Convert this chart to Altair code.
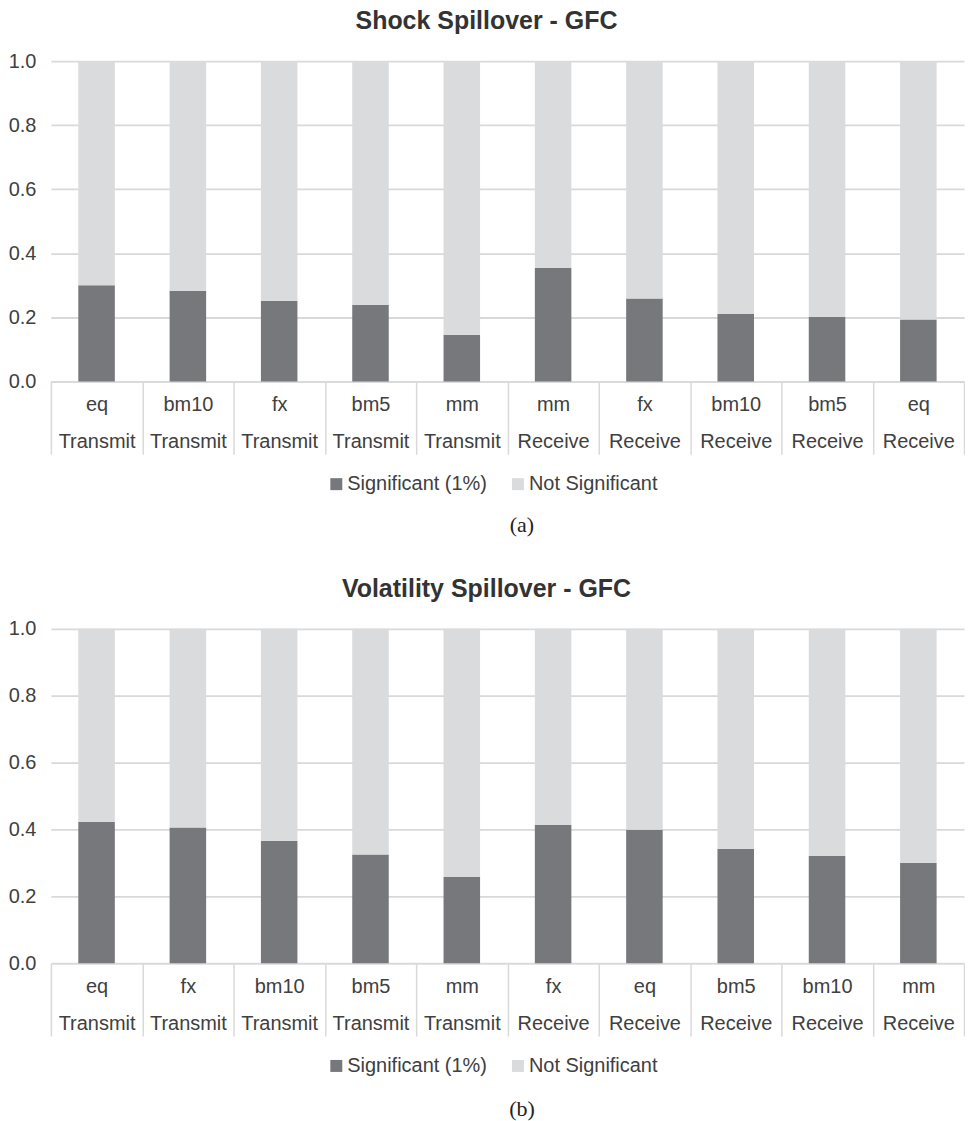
import altair as alt
import pandas as pd

# ---- data ----
status_names = ["Significant (1%)", "Not Significant"]

shock_assets = ["eq", "bm10", "fx", "bm5", "mm", "mm", "fx", "bm10", "bm5", "eq"]
shock_roles = ["Transmit"] * 5 + ["Receive"] * 5
shock_sig = [0.30, 0.283, 0.252, 0.239, 0.145, 0.354, 0.259, 0.210, 0.202, 0.193]

vol_assets = ["eq", "fx", "bm10", "bm5", "mm", "fx", "eq", "bm5", "bm10", "mm"]
vol_roles = ["Transmit"] * 5 + ["Receive"] * 5
vol_sig = [0.422, 0.406, 0.366, 0.325, 0.258, 0.413, 0.399, 0.342, 0.321, 0.300]

colors = ["#77787c", "#dadbdd"]
grid_c = "#d9d9d9"
text_c = "#404040"
FONT = "Liberation Sans"

W = 915


def build(assets, roles, sig, title, H):
    keys = [f"{a}|{r}" for a, r in zip(assets, roles)]
    rows = []
    for k, s in zip(keys, sig):
        rows.append({"key": k, "status": status_names[0], "value": s, "ord": 0})
        rows.append({"key": k, "status": status_names[1], "value": round(1 - s, 3), "ord": 1})
    df = pd.DataFrame(rows)
    return alt.Chart(df).mark_bar(width=alt.RelativeBandSize(0.4)).encode(
        x=alt.X("key:N", sort=keys,
                scale=alt.Scale(paddingInner=0, paddingOuter=0),
                axis=alt.Axis(title=None,
                              labelExpr="datum.value ? split(datum.value, '|') : ''",
                              labelAngle=0, tickBand="extent", tickSize=73,
                              tickColor=grid_c, tickWidth=1.5, domainColor=grid_c,
                              domainWidth=1.5,
                              labelPadding=-60, labelLineHeight=37, labelFontSize=20,
                              labelFont=FONT, labelColor=text_c, labelBaseline="top")),
        y=alt.Y("value:Q", stack="zero", scale=alt.Scale(domain=[0, 1], nice=False),
                axis=alt.Axis(title=None, values=[0, 0.2, 0.4, 0.6, 0.8, 1.0],
                              format=".1f", grid=True, gridColor=grid_c, gridWidth=1.8,
                              domain=False, ticks=False, labelPadding=15,
                              labelFontSize=20, labelFont=FONT, labelColor=text_c)),
        color=alt.Color("status:N",
                        scale=alt.Scale(domain=status_names, range=colors),
                        legend=alt.Legend(title=None, orient="none", direction="horizontal",
                                          legendX=276, legendY=H + 93,
                                          symbolType="square", symbolSize=144,
                                          symbolStrokeWidth=0, labelFontSize=20,
                                          labelFont=FONT, labelColor=text_c,
                                          columnPadding=20, symbolOffset=0, labelOffset=1)),
        order=alt.Order("ord:Q"),
    ).properties(
        width=W, height=H,
        title=alt.TitleParams(title, fontSize=25, font=FONT, fontWeight="bold",
                              color="#333333", anchor="middle", frame="bounds", offset=17),
    )


def caption(txt, h, y):
    return alt.Chart(pd.DataFrame({"t": [txt]})).mark_text(
        font="Liberation Serif", fontSize=22, color="#222222", baseline="middle"
    ).encode(text="t:N", x=alt.value(472), y=alt.value(y)).properties(width=W, height=h)


chart_a = build(shock_assets, shock_roles, shock_sig, "Shock Spillover - GFC", 321)
chart_b = build(vol_assets, vol_roles, vol_sig, "Volatility Spillover - GFC", 335)

chart = alt.vconcat(
    chart_a, caption("(a)", 83, 31), chart_b, caption("(b)", 40, 33), spacing=0
).resolve_scale(color="independent").resolve_legend(color="independent").properties(
    padding=0
).configure_view(stroke=None)

chart.save("out.html", embed_options={"renderer": "svg", "actions": False})
